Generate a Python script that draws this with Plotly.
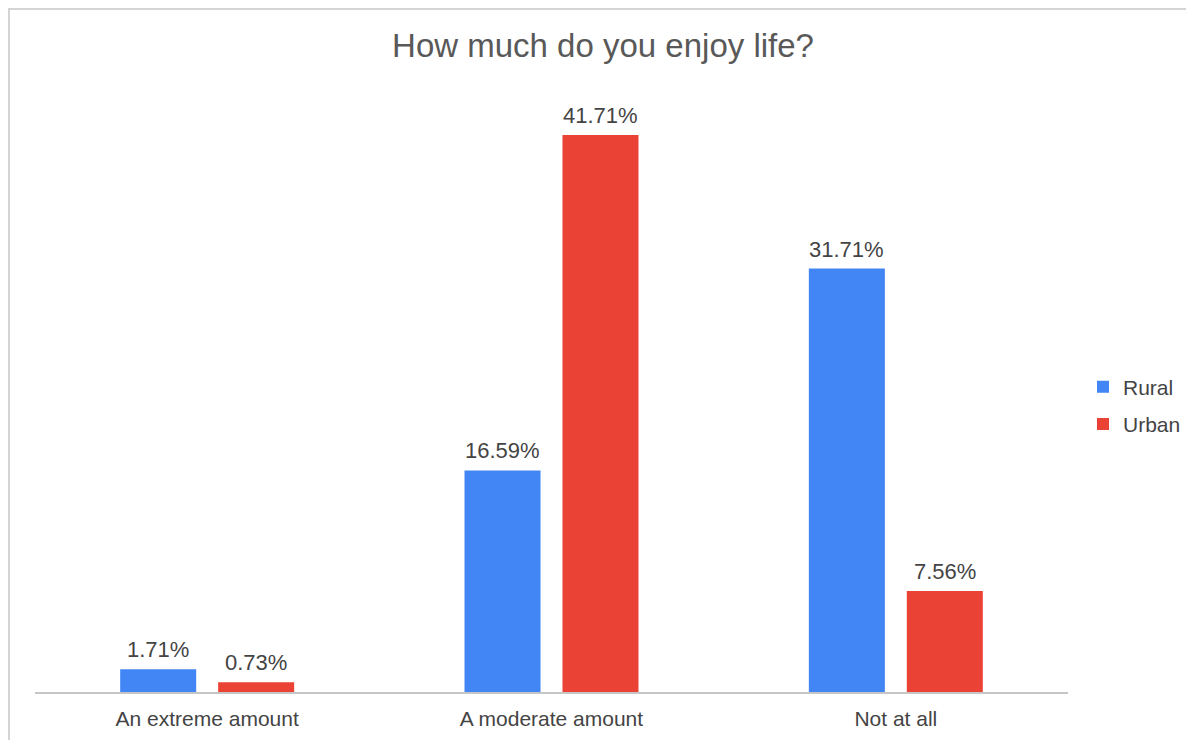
import plotly.graph_objects as go

categories = ["An extreme amount", "A moderate amount", "Not at all"]
rural = [1.71, 16.59, 31.71]
urban = [0.73, 41.71, 7.56]
series_names = ["Rural", "Urban"]
colors = ["#4285F4", "#EA4335"]

W, H = 1194, 740
OFF = 8  # browser body margin
ML, MR, MT, MB = 27, 134, 72, 56
PW = W - ML - MR
PH = H - MT - MB


def px_x(sx):
    return (sx - OFF - ML) / PW


def px_y(sy):
    return (H - MB - (sy - OFF)) / PH


FONT = "Liberation Sans, Arial, sans-serif"

fig = go.Figure()
annotations = []
for i, (name, vals, col) in enumerate(zip(series_names, [rural, urban], colors)):
    fig.add_trace(go.Bar(
        x=categories, y=vals, name=name, legendgroup=name,
        marker=dict(color=col, line=dict(width=0)),
    ))
    for c, v in zip(categories, vals):
        annotations.append(dict(
            x=c, y=v, xref="x", yref="y", text=f"{v:.2f}%",
            showarrow=False, xanchor="center", yanchor="bottom",
            xshift=-49 if i == 0 else 49, yshift=5,
            font=dict(size=22, color="#444444", family=FONT),
        ))

fig.update_layout(
    width=W, height=H,
    margin=dict(l=ML, r=MR, t=MT, b=MB),
    paper_bgcolor="white", plot_bgcolor="white",
    font=dict(family=FONT, color="#444444"),
    title=dict(text="How much do you enjoy life?", x=px_x(603), xanchor="center",
               xref="paper", yref="container", y=1 - (45 - OFF) / H, yanchor="middle",
               font=dict(size=33, color="#595959", family=FONT)),
    barmode="group", bargap=0.431, bargroupgap=0.224,
    showlegend=True,
    legend=dict(x=px_x(1083), xanchor="left", y=px_y(405.5), yanchor="middle",
                font=dict(size=21, color="#444444", family=FONT),
                tracegroupgap=7, traceorder="grouped",
                bgcolor="rgba(0,0,0,0)"),
    xaxis=dict(showline=True, linecolor="#c6c6c6", linewidth=1.5,
               showgrid=False, zeroline=False, ticks="", ticklabelstandoff=7,
               tickfont=dict(size=21, color="#444444", family=FONT)),
    yaxis=dict(range=[0, PH / 13.354], visible=False, showgrid=False,
               zeroline=False),
    annotations=annotations,
    shapes=[
        dict(type="line", xref="paper", yref="paper",
             x0=px_x(8), x1=px_x(1202), y0=px_y(9), y1=px_y(9),
             line=dict(color="#d4d4d4", width=2)),
        dict(type="line", xref="paper", yref="paper",
             x0=px_x(9), x1=px_x(9), y0=px_y(9), y1=px_y(760),
             line=dict(color="#d4d4d4", width=2)),
    ],
)

fig.write_html("out.html")
